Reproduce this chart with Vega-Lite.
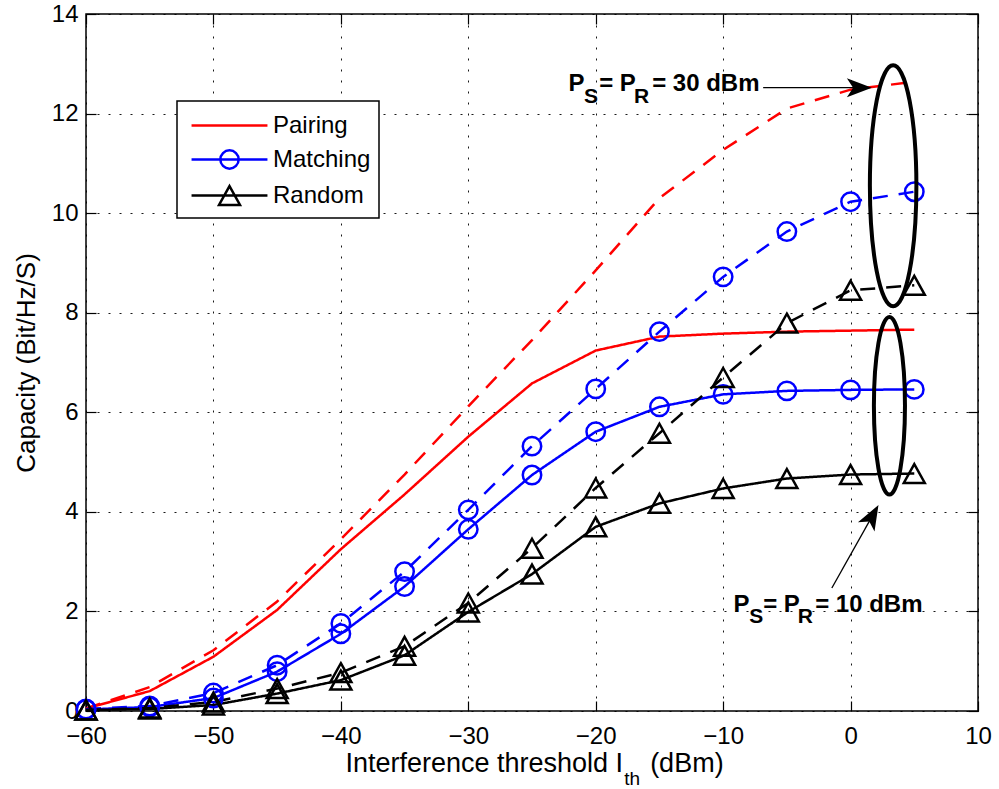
{
  "$schema": "https://vega.github.io/schema/vega-lite/v6.json",
  "width": 892,
  "height": 697,
  "autosize": {"type": "none"},
  "padding": {"left": 86, "top": 14, "right": 21, "bottom": 78},
  "background": "white",
  "config": {
    "font": "Liberation Sans",
    "view": {"stroke": "black", "strokeWidth": 1.5},
    "legend": {"strokeWidth": 1.5},
    "axis": {
      "domain": false,
      "tickColor": "black",
      "tickWidth": 1.2,
      "tickSize": -10,
      "labelColor": "black",
      "labelFontSize": 24,
      "labelFlush": false,
      "labelOverlap": false,
      "titleColor": "black",
      "titleFontSize": 26,
      "titleFontWeight": "normal",
      "gridColor": "black",
      "gridDash": [2, 9],
      "gridWidth": 1,
      "gridOpacity": 0.9
    }
  },
  "datasets": {
    "curves": [
      {"x": -60, "cap": 0.05, "algo": "Pairing", "power": "10 dBm"},
      {"x": -55, "cap": 0.4, "algo": "Pairing", "power": "10 dBm"},
      {"x": -50, "cap": 1.09, "algo": "Pairing", "power": "10 dBm"},
      {"x": -45, "cap": 2.03, "algo": "Pairing", "power": "10 dBm"},
      {"x": -40, "cap": 3.25, "algo": "Pairing", "power": "10 dBm"},
      {"x": -35, "cap": 4.35, "algo": "Pairing", "power": "10 dBm"},
      {"x": -30, "cap": 5.51, "algo": "Pairing", "power": "10 dBm"},
      {"x": -25, "cap": 6.58, "algo": "Pairing", "power": "10 dBm"},
      {"x": -20, "cap": 7.24, "algo": "Pairing", "power": "10 dBm"},
      {"x": -15, "cap": 7.52, "algo": "Pairing", "power": "10 dBm"},
      {"x": -10, "cap": 7.58, "algo": "Pairing", "power": "10 dBm"},
      {"x": -5, "cap": 7.62, "algo": "Pairing", "power": "10 dBm"},
      {"x": 0, "cap": 7.64, "algo": "Pairing", "power": "10 dBm"},
      {"x": 5, "cap": 7.66, "algo": "Pairing", "power": "10 dBm"},
      {"x": -60, "cap": 0.05, "algo": "Pairing", "power": "30 dBm"},
      {"x": -55, "cap": 0.48, "algo": "Pairing", "power": "30 dBm"},
      {"x": -50, "cap": 1.22, "algo": "Pairing", "power": "30 dBm"},
      {"x": -45, "cap": 2.2, "algo": "Pairing", "power": "30 dBm"},
      {"x": -40, "cap": 3.45, "algo": "Pairing", "power": "30 dBm"},
      {"x": -35, "cap": 4.75, "algo": "Pairing", "power": "30 dBm"},
      {"x": -30, "cap": 6.12, "algo": "Pairing", "power": "30 dBm"},
      {"x": -25, "cap": 7.45, "algo": "Pairing", "power": "30 dBm"},
      {"x": -20, "cap": 8.85, "algo": "Pairing", "power": "30 dBm"},
      {"x": -15, "cap": 10.3, "algo": "Pairing", "power": "30 dBm"},
      {"x": -10, "cap": 11.27, "algo": "Pairing", "power": "30 dBm"},
      {"x": -5, "cap": 12.1, "algo": "Pairing", "power": "30 dBm"},
      {"x": 0, "cap": 12.48, "algo": "Pairing", "power": "30 dBm"},
      {"x": 5, "cap": 12.64, "algo": "Pairing", "power": "30 dBm"},
      {"x": -60, "cap": 0.03, "algo": "Matching", "power": "10 dBm"},
      {"x": -55, "cap": 0.08, "algo": "Matching", "power": "10 dBm"},
      {"x": -50, "cap": 0.26, "algo": "Matching", "power": "10 dBm"},
      {"x": -45, "cap": 0.79, "algo": "Matching", "power": "10 dBm"},
      {"x": -40, "cap": 1.55, "algo": "Matching", "power": "10 dBm"},
      {"x": -35, "cap": 2.5, "algo": "Matching", "power": "10 dBm"},
      {"x": -30, "cap": 3.65, "algo": "Matching", "power": "10 dBm"},
      {"x": -25, "cap": 4.74, "algo": "Matching", "power": "10 dBm"},
      {"x": -20, "cap": 5.61, "algo": "Matching", "power": "10 dBm"},
      {"x": -15, "cap": 6.11, "algo": "Matching", "power": "10 dBm"},
      {"x": -10, "cap": 6.36, "algo": "Matching", "power": "10 dBm"},
      {"x": -5, "cap": 6.43, "algo": "Matching", "power": "10 dBm"},
      {"x": 0, "cap": 6.45, "algo": "Matching", "power": "10 dBm"},
      {"x": 5, "cap": 6.46, "algo": "Matching", "power": "10 dBm"},
      {"x": -60, "cap": 0.04, "algo": "Matching", "power": "30 dBm"},
      {"x": -55, "cap": 0.1, "algo": "Matching", "power": "30 dBm"},
      {"x": -50, "cap": 0.36, "algo": "Matching", "power": "30 dBm"},
      {"x": -45, "cap": 0.92, "algo": "Matching", "power": "30 dBm"},
      {"x": -40, "cap": 1.76, "algo": "Matching", "power": "30 dBm"},
      {"x": -35, "cap": 2.8, "algo": "Matching", "power": "30 dBm"},
      {"x": -30, "cap": 4.04, "algo": "Matching", "power": "30 dBm"},
      {"x": -25, "cap": 5.32, "algo": "Matching", "power": "30 dBm"},
      {"x": -20, "cap": 6.47, "algo": "Matching", "power": "30 dBm"},
      {"x": -15, "cap": 7.62, "algo": "Matching", "power": "30 dBm"},
      {"x": -10, "cap": 8.72, "algo": "Matching", "power": "30 dBm"},
      {"x": -5, "cap": 9.63, "algo": "Matching", "power": "30 dBm"},
      {"x": 0, "cap": 10.23, "algo": "Matching", "power": "30 dBm"},
      {"x": 5, "cap": 10.43, "algo": "Matching", "power": "30 dBm"},
      {"x": -60, "cap": 0.02, "algo": "Random", "power": "10 dBm"},
      {"x": -55, "cap": 0.04, "algo": "Random", "power": "10 dBm"},
      {"x": -50, "cap": 0.12, "algo": "Random", "power": "10 dBm"},
      {"x": -45, "cap": 0.35, "algo": "Random", "power": "10 dBm"},
      {"x": -40, "cap": 0.62, "algo": "Random", "power": "10 dBm"},
      {"x": -35, "cap": 1.12, "algo": "Random", "power": "10 dBm"},
      {"x": -30, "cap": 1.99, "algo": "Random", "power": "10 dBm"},
      {"x": -25, "cap": 2.75, "algo": "Random", "power": "10 dBm"},
      {"x": -20, "cap": 3.7, "algo": "Random", "power": "10 dBm"},
      {"x": -15, "cap": 4.17, "algo": "Random", "power": "10 dBm"},
      {"x": -10, "cap": 4.47, "algo": "Random", "power": "10 dBm"},
      {"x": -5, "cap": 4.67, "algo": "Random", "power": "10 dBm"},
      {"x": 0, "cap": 4.75, "algo": "Random", "power": "10 dBm"},
      {"x": 5, "cap": 4.77, "algo": "Random", "power": "10 dBm"},
      {"x": -60, "cap": 0.02, "algo": "Random", "power": "30 dBm"},
      {"x": -55, "cap": 0.06, "algo": "Random", "power": "30 dBm"},
      {"x": -50, "cap": 0.18, "algo": "Random", "power": "30 dBm"},
      {"x": -45, "cap": 0.45, "algo": "Random", "power": "30 dBm"},
      {"x": -40, "cap": 0.77, "algo": "Random", "power": "30 dBm"},
      {"x": -35, "cap": 1.3, "algo": "Random", "power": "30 dBm"},
      {"x": -30, "cap": 2.17, "algo": "Random", "power": "30 dBm"},
      {"x": -25, "cap": 3.27, "algo": "Random", "power": "30 dBm"},
      {"x": -20, "cap": 4.48, "algo": "Random", "power": "30 dBm"},
      {"x": -15, "cap": 5.58, "algo": "Random", "power": "30 dBm"},
      {"x": -10, "cap": 6.7, "algo": "Random", "power": "30 dBm"},
      {"x": -5, "cap": 7.79, "algo": "Random", "power": "30 dBm"},
      {"x": 0, "cap": 8.45, "algo": "Random", "power": "30 dBm"},
      {"x": 5, "cap": 8.55, "algo": "Random", "power": "30 dBm"}
    ],
    "keys": [
      {"x": -100, "cap": -100, "algo": "Pairing"},
      {"x": -100, "cap": -100, "algo": "Matching"},
      {"x": -100, "cap": -100, "algo": "Random"}
    ],
    "notes": [
      {"x": -22.13, "y": 12.458, "t": "P"},
      {"x": -19.73, "y": 12.458, "t": "= P"},
      {"x": -15.57, "y": 12.458, "t": "= 30 dBm"},
      {"x": -9.18, "y": 1.982, "t": "P"},
      {"x": -6.86, "y": 1.982, "t": "= P"},
      {"x": -2.78, "y": 1.982, "t": "= 10 dBm"}
    ],
    "subs": [
      {"x": -20.91, "y": 12.217, "t": "S"},
      {"x": -16.99, "y": 12.217, "t": "R"},
      {"x": -7.96, "y": 1.767, "t": "S"},
      {"x": -4.15, "y": 1.767, "t": "R"}
    ]
  },
  "layer": [
    {
      "data": {"name": "curves"},
      "transform": [{"filter": "datum.algo === 'Pairing'"}],
      "mark": {"type": "line", "strokeWidth": 2.5, "color": "#ff0000"},
      "encoding": {
        "x": {
          "field": "x", "type": "quantitative",
          "scale": {"domain": [-60, 10], "nice": false, "zero": false},
          "axis": {"orient": "bottom", "values": [-60, -50, -40, -30, -20, -10, 0, 10], "grid": true, "title": null, "labelPadding": 23}
        },
        "y": {
          "field": "cap", "type": "quantitative",
          "scale": {"domain": [0, 14], "nice": false, "zero": false},
          "axis": {"orient": "left", "values": [0, 2, 4, 6, 8, 10, 12, 14], "grid": true, "title": "Capacity (Bit/Hz/S)", "labelPadding": 18, "titlePadding": 12}
        },
        "strokeDash": {
          "field": "power", "type": "nominal",
          "scale": {"domain": ["10 dBm", "30 dBm"], "range": [[1, 0], [15, 11]]},
          "legend": null
        }
      }
    },
    {
      "data": {"name": "curves"},
      "transform": [{"filter": "datum.algo === 'Matching'"}],
      "mark": {"type": "line", "strokeWidth": 2.5, "color": "#0000ff"},
      "encoding": {
        "x": {"field": "x", "type": "quantitative", "scale": {"domain": [-60, 10], "nice": false, "zero": false}, "axis": null},
        "y": {"field": "cap", "type": "quantitative", "scale": {"domain": [0, 14], "nice": false, "zero": false}, "axis": null},
        "strokeDash": {
          "field": "power", "type": "nominal",
          "scale": {"domain": ["10 dBm", "30 dBm"], "range": [[1, 0], [15, 11]]},
          "legend": null
        }
      }
    },
    {
      "data": {"name": "curves"},
      "transform": [{"filter": "datum.algo === 'Random'"}],
      "mark": {"type": "line", "strokeWidth": 2.5, "color": "#000000"},
      "encoding": {
        "x": {"field": "x", "type": "quantitative", "scale": {"domain": [-60, 10], "nice": false, "zero": false}, "axis": null},
        "y": {"field": "cap", "type": "quantitative", "scale": {"domain": [0, 14], "nice": false, "zero": false}, "axis": null},
        "strokeDash": {
          "field": "power", "type": "nominal",
          "scale": {"domain": ["10 dBm", "30 dBm"], "range": [[1, 0], [15, 11]]},
          "legend": null
        }
      }
    },
    {
      "data": {"name": "curves"},
      "transform": [{"filter": "datum.algo === 'Matching'"}],
      "mark": {"type": "point", "shape": "circle", "size": 340, "filled": false, "color": "#0000ff", "strokeWidth": 2.5, "opacity": 1},
      "encoding": {
        "x": {"field": "x", "type": "quantitative", "scale": {"domain": [-60, 10], "nice": false, "zero": false}, "axis": null},
        "y": {"field": "cap", "type": "quantitative", "scale": {"domain": [0, 14], "nice": false, "zero": false}, "axis": null}
      }
    },
    {
      "data": {"name": "curves"},
      "transform": [{"filter": "datum.algo === 'Random'"}],
      "mark": {"type": "point", "shape": "M 0 -0.9 L 1 0.9 L -1 0.9 Z", "size": 441, "filled": false, "color": "#000000", "strokeWidth": 2.5, "opacity": 1},
      "encoding": {
        "x": {"field": "x", "type": "quantitative", "scale": {"domain": [-60, 10], "nice": false, "zero": false}, "axis": null},
        "y": {"field": "cap", "type": "quantitative", "scale": {"domain": [0, 14], "nice": false, "zero": false}, "axis": null}
      }
    },
    {
      "data": {"name": "keys"},
      "mark": {"type": "point", "filled": false, "strokeWidth": 2.5, "opacity": 1, "clip": true},
      "encoding": {
        "x": {
          "field": "x", "type": "quantitative",
          "scale": {"domain": [-60, 10], "nice": false, "zero": false},
          "axis": {"orient": "top", "values": [-60, -50, -40, -30, -20, -10, 0, 10], "labels": false, "grid": false, "title": null}
        },
        "y": {
          "field": "cap", "type": "quantitative",
          "scale": {"domain": [0, 14], "nice": false, "zero": false},
          "axis": {"orient": "right", "values": [0, 2, 4, 6, 8, 10, 12, 14], "labels": false, "grid": false, "title": null}
        },
        "color": {
          "field": "algo", "type": "nominal",
          "scale": {"domain": ["Pairing", "Matching", "Random"], "range": ["#ff0000", "#0000ff", "#000000"]},
          "legend": {"orient": "none", "legendX": 91, "legendY": 87, "title": null, "symbolSize": 900, "symbolStrokeWidth": 2.5, "symbolOffset": 28, "labelOffset": 27, "labelFontSize": 24, "labelColor": "black", "labelLimit": 300, "rowPadding": 5, "padding": 8, "strokeColor": "black", "fillColor": "white"}
        },
        "shape": {
          "field": "algo", "type": "nominal",
          "scale": {
            "domain": ["Pairing", "Matching", "Random"],
            "range": [
              "M -2.53 0 L 2.53 0",
              "M -2.53 0 L 2.53 0 M 0.61 0 C 0.61 0.337 0.337 0.61 0 0.61 C -0.337 0.61 -0.61 0.337 -0.61 0 C -0.61 -0.337 -0.337 -0.61 0 -0.61 C 0.337 -0.61 0.61 -0.337 0.61 0 Z",
              "M -2.53 0 L 2.53 0 M 0 -0.63 L 0.7 0.63 L -0.7 0.63 Z"
            ]
          },
          "legend": {"orient": "none", "legendX": 91, "legendY": 87, "title": null, "symbolSize": 900, "symbolStrokeWidth": 2.5, "symbolOffset": 28, "labelOffset": 27, "labelFontSize": 24, "labelColor": "black", "labelLimit": 300, "rowPadding": 5, "padding": 8, "strokeColor": "black", "fillColor": "white"}
        }
      }
    },
    {
      "data": {"values": [{"x": 3.34, "y": 10.548}]},
      "mark": {"type": "point", "shape": "M 0 -1 C 0.1066 -1 0.193 -0.5523 0.193 0 C 0.193 0.5523 0.1066 1 0 1 C -0.1066 1 -0.193 0.5523 -0.193 0 C -0.193 -0.5523 -0.1066 -1 0 -1 Z", "size": 58081, "filled": false, "color": "black", "strokeWidth": 4, "opacity": 1},
      "encoding": {
        "x": {"field": "x", "type": "quantitative", "scale": {"domain": [-60, 10], "nice": false, "zero": false}, "axis": null},
        "y": {"field": "y", "type": "quantitative", "scale": {"domain": [0, 14], "nice": false, "zero": false}, "axis": null}
      }
    },
    {
      "data": {"values": [{"x": 3.05, "y": 6.13}]},
      "mark": {"type": "point", "shape": "M 0 -1 C 0.0967 -1 0.175 -0.5523 0.175 0 C 0.175 0.5523 0.0967 1 0 1 C -0.0967 1 -0.175 0.5523 -0.175 0 C -0.175 -0.5523 -0.0967 -1 0 -1 Z", "size": 31542, "filled": false, "color": "black", "strokeWidth": 4, "opacity": 1},
      "encoding": {
        "x": {"field": "x", "type": "quantitative", "scale": {"domain": [-60, 10], "nice": false, "zero": false}, "axis": null},
        "y": {"field": "y", "type": "quantitative", "scale": {"domain": [0, 14], "nice": false, "zero": false}, "axis": null}
      }
    },
    {
      "data": {"values": [{"x": -6.86, "y": 12.52, "x2": 0.69, "y2": 12.52}, {"x": -1.47, "y": 2.47, "x2": 1.71, "y2": 3.918}]},
      "mark": {"type": "rule", "color": "black", "strokeWidth": 1.3},
      "encoding": {
        "x": {"field": "x", "type": "quantitative", "scale": {"domain": [-60, 10], "nice": false, "zero": false}, "axis": null},
        "y": {"field": "y", "type": "quantitative", "scale": {"domain": [0, 14], "nice": false, "zero": false}, "axis": null},
        "x2": {"field": "x2"},
        "y2": {"field": "y2"}
      }
    },
    {
      "data": {"values": [{"x": 0.69, "y": 12.52}]},
      "mark": {"type": "point", "shape": "M 1 0 L -1 -0.76 L -0.5 0 L -1 0.76 Z", "size": 625, "filled": true, "color": "black", "strokeWidth": 0, "opacity": 1, "angle": 0},
      "encoding": {
        "x": {"field": "x", "type": "quantitative", "scale": {"domain": [-60, 10], "nice": false, "zero": false}, "axis": null},
        "y": {"field": "y", "type": "quantitative", "scale": {"domain": [0, 14], "nice": false, "zero": false}, "axis": null}
      }
    },
    {
      "data": {"values": [{"x": 1.71, "y": 3.918}]},
      "mark": {"type": "point", "shape": "M 1 0 L -1 -0.76 L -0.5 0 L -1 0.76 Z", "size": 625, "filled": true, "color": "black", "strokeWidth": 0, "opacity": 1, "angle": 299.3},
      "encoding": {
        "x": {"field": "x", "type": "quantitative", "scale": {"domain": [-60, 10], "nice": false, "zero": false}, "axis": null},
        "y": {"field": "y", "type": "quantitative", "scale": {"domain": [0, 14], "nice": false, "zero": false}, "axis": null}
      }
    },
    {
      "data": {"name": "notes"},
      "mark": {"type": "text", "align": "left", "baseline": "alphabetic", "fontWeight": "bold", "fontSize": 24, "color": "black"},
      "encoding": {
        "x": {"field": "x", "type": "quantitative", "scale": {"domain": [-60, 10], "nice": false, "zero": false}, "axis": null},
        "y": {"field": "y", "type": "quantitative", "scale": {"domain": [0, 14], "nice": false, "zero": false}, "axis": null},
        "text": {"field": "t"}
      }
    },
    {
      "data": {"name": "subs"},
      "mark": {"type": "text", "align": "left", "baseline": "alphabetic", "fontWeight": "bold", "fontSize": 21, "color": "black"},
      "encoding": {
        "x": {"field": "x", "type": "quantitative", "scale": {"domain": [-60, 10], "nice": false, "zero": false}, "axis": null},
        "y": {"field": "y", "type": "quantitative", "scale": {"domain": [0, 14], "nice": false, "zero": false}, "axis": null},
        "text": {"field": "t"}
      }
    },
    {
      "data": {"values": [{"x": -17.85, "y": -1.231, "t": "Interference threshold I"}]},
      "mark": {"type": "text", "align": "right", "baseline": "alphabetic", "fontSize": 27, "color": "black"},
      "encoding": {
        "x": {"field": "x", "type": "quantitative", "scale": {"domain": [-60, 10], "nice": false, "zero": false}, "axis": null},
        "y": {"field": "y", "type": "quantitative", "scale": {"domain": [0, 14], "nice": false, "zero": false}, "axis": null},
        "text": {"field": "t"}
      }
    },
    {
      "data": {"values": [{"x": -17.77, "y": -1.49, "t": "th"}]},
      "mark": {"type": "text", "align": "left", "baseline": "alphabetic", "fontSize": 19, "color": "black"},
      "encoding": {
        "x": {"field": "x", "type": "quantitative", "scale": {"domain": [-60, 10], "nice": false, "zero": false}, "axis": null},
        "y": {"field": "y", "type": "quantitative", "scale": {"domain": [0, 14], "nice": false, "zero": false}, "axis": null},
        "text": {"field": "t"}
      }
    },
    {
      "data": {"values": [{"x": -15.73, "y": -1.231, "t": "(dBm)"}]},
      "mark": {"type": "text", "align": "left", "baseline": "alphabetic", "fontSize": 27, "color": "black"},
      "encoding": {
        "x": {"field": "x", "type": "quantitative", "scale": {"domain": [-60, 10], "nice": false, "zero": false}, "axis": null},
        "y": {"field": "y", "type": "quantitative", "scale": {"domain": [0, 14], "nice": false, "zero": false}, "axis": null},
        "text": {"field": "t"}
      }
    }
  ],
  "resolve": {"axis": {"x": "independent", "y": "independent"}}
}
